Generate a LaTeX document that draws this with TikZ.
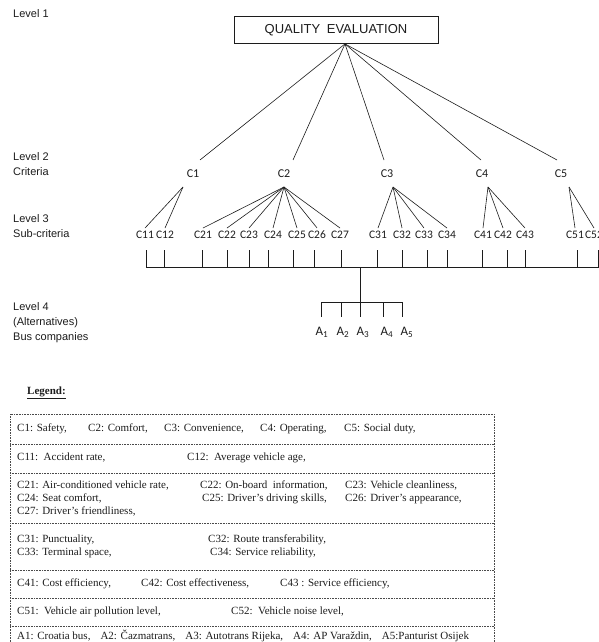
\documentclass[tikz,border=0pt]{standalone}
\usepackage{fontspec}
\setmainfont{Liberation Serif}
\setsansfont{Liberation Sans}
\newfontfamily\calfont{Carlito}
\usepackage{tikz}
\usetikzlibrary{positioning, calc}
\definecolor{ScanInk}{HTML}{1C1C1C}
\definecolor{RuleGray}{HTML}{4A4A4A}
\newcommand{\legcol}[2]{\makebox[#1][l]{#2}}

\begin{document}
\begin{tikzpicture}[
    x=1pt, y=-1pt,
    every node/.style={inner sep=0pt, text=ScanInk},
    level/.style={anchor=west, align=left, font=\sffamily\fontsize{11}{15}\selectfont},
    topbox/.style={draw=ScanInk, line width=0.8pt, minimum width=204pt, minimum height=27pt, font=\sffamily\fontsize{13}{15}\selectfont},
    crit/.style={font=\calfont\fontsize{12}{14}\selectfont},
    sub/.style={font=\calfont\fontsize{11.5}{13}\selectfont},
    altlab/.style={font=\calfont\fontsize{13}{15}\selectfont},
    link/.style={draw=ScanInk, line width=0.6pt},
    tick/.style={draw=ScanInk, line width=0.9pt},
    leg/.style={anchor=west, align=left, font=\fontsize{11}{12.8}\selectfont},
    cell/.style={draw=RuleGray, densely dotted, line width=0.6pt}
  ]
    \useasboundingbox (0,0) rectangle (599,642);
    \clip (0,0) rectangle (599,642);

    % Levels
    \node[level] (lv1) at (13,14) {Level 1};
    \node[level] (lv2) at (13,164) {Level 2\\Criteria};
    \node[level] (lv3) at (13,226) {Level 3\\Sub-criteria};
    \node[level] (lv4) at (13,323) {Level 4\\(Alternatives)\\Bus companies};

    % Goal
    \node[topbox] (qe) at (336,30) {QUALITY\enspace EVALUATION};

    % Criteria
    \foreach \n/\x in {1/193, 2/284, 3/387, 4/482, 5/561}
      \node[crit] (c\n) at (\x,174) {C\n};
    \foreach \n/\x in {1/200, 2/293, 3/384, 4/481, 5/557}
      \coordinate (e\n) at (\x,160);
    \foreach \n/\x in {1/183, 2/284, 3/393, 4/488, 5/569}
      \coordinate (p\n) at (\x,187);

    % Sub-criteria
    \foreach \n/\x/\t in {11/145/146, 12/165/164, 21/203/202, 22/227/227, 23/249/249,
        24/273/268, 25/297/293, 26/317/314, 27/340/341, 31/378/377, 32/402/402,
        33/424/427, 34/447/447, 41/483/482, 42/503/507, 43/525/525, 51/575/577, 52/594/598} {
      \node[sub] (c\n) at (\x,235) {C\n};
      \coordinate (t\n) at (\t,250);
    }

    % Alternatives
    \foreach \n/\x/\t in {1/322/321, 2/343/341, 3/363/360, 4/387/383, 5/407/402} {
      \node[altlab] (alt\n) at (\x,332) {A\textsubscript{\n}};
      \coordinate (u\n) at (\t,317);
    }
    \coordinate (bus) at (599,267);
    \coordinate (split) at (360,267);
    \coordinate (hub) at (360,302);

    % Lines
    \foreach \n in {1,...,5}
      \draw[link] ([xshift=9pt]qe.south) -- (e\n);
    \foreach \p/\s in {1/11, 1/12, 2/21, 2/22, 2/23, 2/24, 2/25, 2/26, 2/27,
        3/31, 3/32, 3/33, 3/34, 4/41, 4/42, 4/43, 5/51, 5/52}
      \draw[link] (p\p) -- ([yshift=3pt]c\s.north);
    \foreach \s in {11,12,21,22,23,24,25,26,27,31,32,33,34,41,42,43,51,52}
      \draw[tick] (t\s) -- (t\s |- bus);
    \draw[link] (t11 |- bus) -- (bus);
    \draw[link] (split) -- (u3);
    \draw[link] (u1 |- hub) -- (u5 |- hub);
    \foreach \n in {1,2,4,5}
      \draw[tick] (u\n |- hub) -- (u\n);

    % Legend
    \node[anchor=west, font=\bfseries\fontsize{11}{13}\selectfont] (lg) at (27,393) {\underline{Legend:}};
    \draw[cell] (10,650) -- (10,414) -- (494,414) -- (494,650);
    \foreach \y in {444,473,523,570,598,626}
      \draw[cell] (10,\y) -- (494,\y);
    \node[leg] (r1) at (17,429) {\legcol{71pt}{C1: Safety,}\legcol{76pt}{C2: Comfort,}\legcol{96pt}{C3: Convenience,}\legcol{84pt}{C4: Operating,}C5: Social duty,};
    \node[leg] (r2) at (17,458) {\legcol{170pt}{C11:\ \ Accident rate,}C12:\ \ Average vehicle age,};
    \node[leg] (r3) at (17,498.5) {\legcol{183pt}{C21: Air-conditioned vehicle rate,}\legcol{145pt}{C22: On-board\ \ information,}C23: Vehicle cleanliness,\\
      \legcol{185pt}{C24: Seat comfort,}\legcol{143pt}{C25: Driver's driving skills,}C26: Driver's appearance,\\
      C27: Driver's friendliness,};
    \node[leg] (r4) at (17,546.5) {\legcol{191pt}{C31: Punctuality,}C32: Route transferability,\\
      \legcol{193pt}{C33: Terminal space,}C34: Service reliability,};
    \node[leg] (r5) at (17,584) {\legcol{124pt}{C41: Cost efficiency,}\legcol{139pt}{C42: Cost effectiveness,}C43 : Service efficiency,};
    \node[leg] (r6) at (17,612) {\legcol{214pt}{C51:\ \ Vehicle air pollution level,}C52:\ \ Vehicle noise level,};
    \node[leg] (r7) at (17,636) {A1: Croatia bus,\hspace{10pt}A2: Čazmatrans,\hspace{10pt}A3: Autotrans Rijeka,\hspace{10pt}A4: AP Varaždin,\hspace{10pt}A5:Panturist Osijek};
  \end{tikzpicture}
\end{document}
